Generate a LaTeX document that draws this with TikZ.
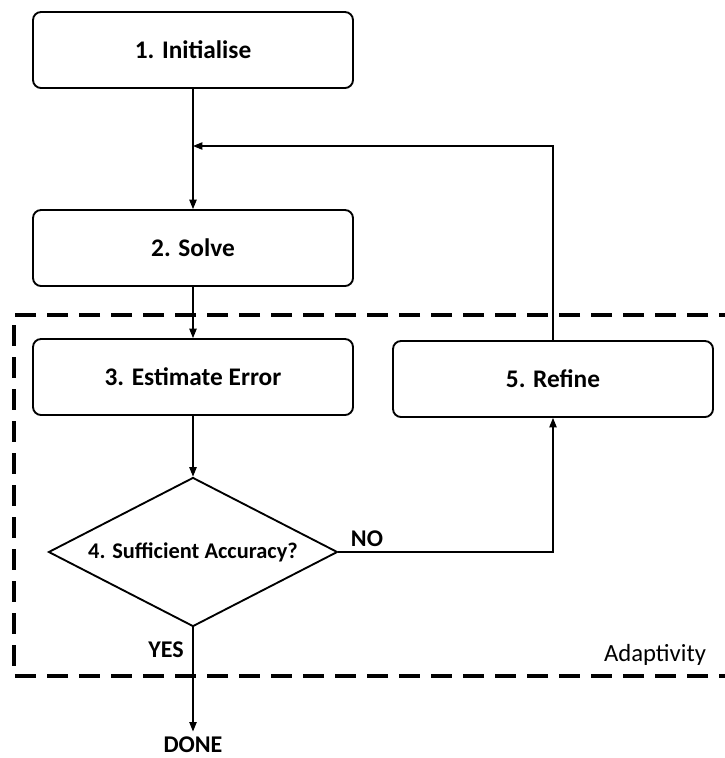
\documentclass[tikz,border=0pt]{standalone}
\usepackage{fontspec}
\setmainfont{Carlito}
\usetikzlibrary{shapes.geometric,arrows.meta}

\begin{document}
\begin{tikzpicture}[x=0.75pt,y=0.75pt,
    stepbox/.style={draw,rounded corners=6pt,line width=1.4pt,
      minimum width=240pt,minimum height=57pt,
      font=\bfseries\fontsize{19}{21}\selectfont},
    test/.style={draw,diamond,aspect=1.94,inner sep=0pt,line width=1.4pt,
      minimum width=216.75pt,minimum height=111.75pt,
      font=\bfseries\fontsize{16.8}{19}\selectfont},
    flow/.style={-{Triangle[length=7pt,width=5.5pt]},line width=0.8pt},
    tag/.style={font=\bfseries\fontsize{18}{20}\selectfont}]
  \useasboundingbox (0,0) rectangle (725,-758);
  % adaptivity frame, cut at the right edge
  \begin{scope}
    \clip (0,0) rectangle (725,-758);
    \draw[line width=3pt,dash pattern=on 16pt off 8pt]
      (740,-315) -- (14,-315) -- (14,-676) -- (740,-676);
  \end{scope}
  \node[stepbox] (init) at (193,-50) {1. Initialise};
  \node[stepbox] (solve) at (193,-248) {2. Solve};
  \node[stepbox] (estimate) at (193,-377) {3. Estimate Error};
  \node[stepbox] (refine) at (553,-379) {5. Refine};
  \node[test] (check) at (193,-552) {4. Sufficient Accuracy?};
  \node[tag,inner ysep=4pt] (done) at (193,-745) {DONE};
  \coordinate (back) at (193,-146);
  \node[tag] (no) at (367,-539) {NO};
  \node[tag] (yes) at (166,-650) {YES};
  \node[font=\fontsize{18.5}{20}\selectfont] (adapt) at (655,-655) {Adaptivity};
  \foreach \a/\b in {init/solve, solve/estimate, estimate/check, check/done} {
    \draw[flow] (\a) -- (\b);
  };
  \draw[flow] (check.east) -| (refine.south);
  \draw[flow] (refine.north) |- (back);
\end{tikzpicture}
\end{document}
